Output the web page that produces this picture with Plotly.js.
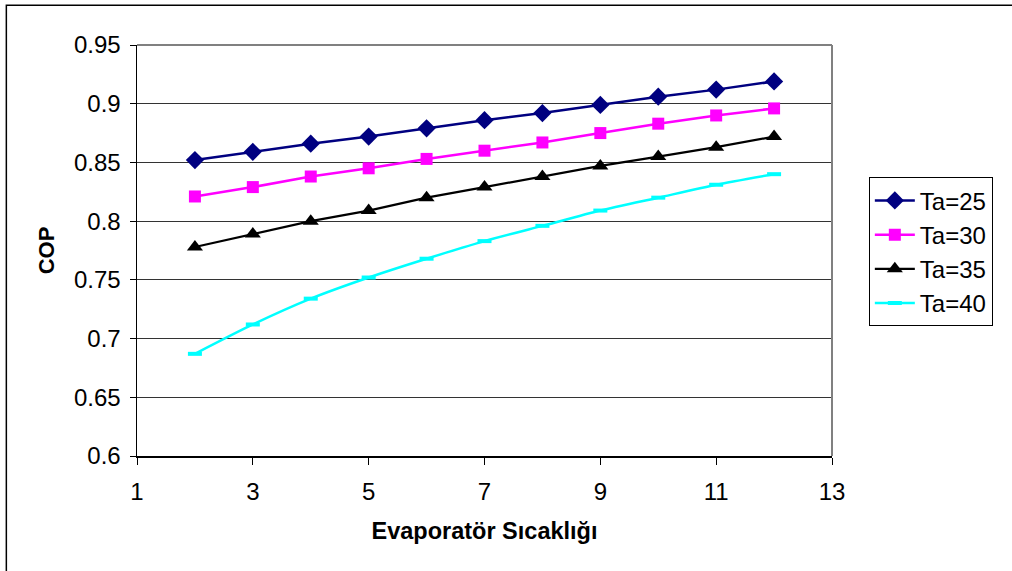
<!DOCTYPE html>
<html>
<head>
<meta charset="utf-8">
<script src="https://cdn.plot.ly/plotly-3.0.1.min.js"></script>
<style>
  html, body { margin: 0; padding: 0; background: #fff; }
  #chart { width: 1012px; height: 571px; }
</style>
</head>
<body>
<div id="chart"></div>
<script>
// Evaporator temperature (°C)
const evapTemp = [2, 3, 4, 5, 6, 7, 8, 9, 10, 11, 12];

// COP for each ambient temperature
const copTa25 = [0.852, 0.859, 0.866, 0.872, 0.879, 0.886, 0.892, 0.899, 0.906, 0.912, 0.919];
const copTa30 = [0.821, 0.829, 0.838, 0.845, 0.853, 0.860, 0.867, 0.875, 0.883, 0.890, 0.896];
const copTa35 = [0.778, 0.789, 0.800, 0.809, 0.820, 0.829, 0.838, 0.847, 0.855, 0.863, 0.872];
const copTa40 = [0.687, 0.712, 0.734, 0.752, 0.768, 0.783, 0.796, 0.809, 0.820, 0.831, 0.840];

const seriesNames = ['Ta=25', 'Ta=30', 'Ta=35', 'Ta=40'];

const FONT = 'Liberation Sans, Arial, sans-serif';

const traces = [
  {
    x: evapTemp, y: copTa25, name: seriesNames[0], type: 'scatter', mode: 'lines+markers',
    line: { color: '#000080', width: 2.5 },
    marker: { symbol: 'diamond', size: 14, color: '#000080' }
  },
  {
    x: evapTemp, y: copTa30, name: seriesNames[1], type: 'scatter', mode: 'lines+markers',
    line: { color: '#ff00ff', width: 2.5 },
    marker: { symbol: 'square', size: 12, color: '#ff00ff' }
  },
  {
    x: evapTemp, y: copTa35, name: seriesNames[2], type: 'scatter', mode: 'lines+markers',
    line: { color: '#000000', width: 2.2 },
    marker: { symbol: 'triangle-up', size: 14, color: '#000000' }
  },
  {
    x: evapTemp, y: copTa40, name: seriesNames[3], type: 'scatter', mode: 'lines+markers',
    line: { color: '#00ffff', width: 2.5, shape: 'spline', smoothing: 0.6 },
    marker: { symbol: 'line-ew', size: 10, color: '#00ffff', line: { color: '#00ffff', width: 4 } }
  }
];

const layout = {
  width: 1012,
  height: 571,
  margin: { l: 137, r: 180, t: 45, b: 115 },
  paper_bgcolor: '#ffffff',
  plot_bgcolor: '#ffffff',
  font: { family: FONT, color: '#000', size: 24 },
  showlegend: true,
  legend: {
    x: 1.053, y: 0.678, xanchor: 'left', yanchor: 'top',
    bordercolor: '#000', borderwidth: 1, bgcolor: '#fff',
    font: { family: FONT, size: 24, color: '#000' },
    tracegroupgap: 0, itemwidth: 40
  },
  xaxis: {
    range: [1, 13], tick0: 1, dtick: 2,
    showgrid: false, zeroline: false,
    showline: true, linecolor: '#000', linewidth: 1.5,
    ticks: 'outside', ticklen: 7, tickcolor: '#000', tickwidth: 1,
    ticklabelstandoff: 7,
    tickfont: { family: FONT, size: 24 },
    title: { text: '<b>Evaporatör Sıcaklığı</b>', font: { family: FONT, size: 23.5 }, standoff: 18 }
  },
  yaxis: {
    range: [0.6, 0.95], tick0: 0.6, dtick: 0.05,
    showgrid: true, gridcolor: '#333', gridwidth: 1,
    zeroline: false,
    showline: true, linecolor: '#000', linewidth: 1.5,
    ticks: 'outside', ticklen: 6, tickcolor: '#000', tickwidth: 1,
    ticklabelstandoff: 4,
    tickfont: { family: FONT, size: 24 },
    title: { text: '<b>COP</b>', font: { family: FONT, size: 22 }, standoff: 13 }
  },
  shapes: [
    // plot-area frame on the top and right sides
    { type: 'line', xref: 'paper', yref: 'paper', x0: 0, x1: 1, y0: 1, y1: 1,
      line: { color: '#808080', width: 2 } },
    { type: 'line', xref: 'paper', yref: 'paper', x0: 1, x1: 1, y0: 0, y1: 1,
      line: { color: '#808080', width: 2 } },
    // outer chart frame
    { type: 'rect', xref: 'paper', yref: 'paper', x0: -0.188, x1: 1.3, y0: -0.4, y1: 1.097,
      line: { color: '#000', width: 1.5 }, fillcolor: 'rgba(0,0,0,0)' }
  ]
};

Plotly.newPlot('chart', traces, layout, { displayModeBar: false, staticPlot: true });
</script>
</body>
</html>
